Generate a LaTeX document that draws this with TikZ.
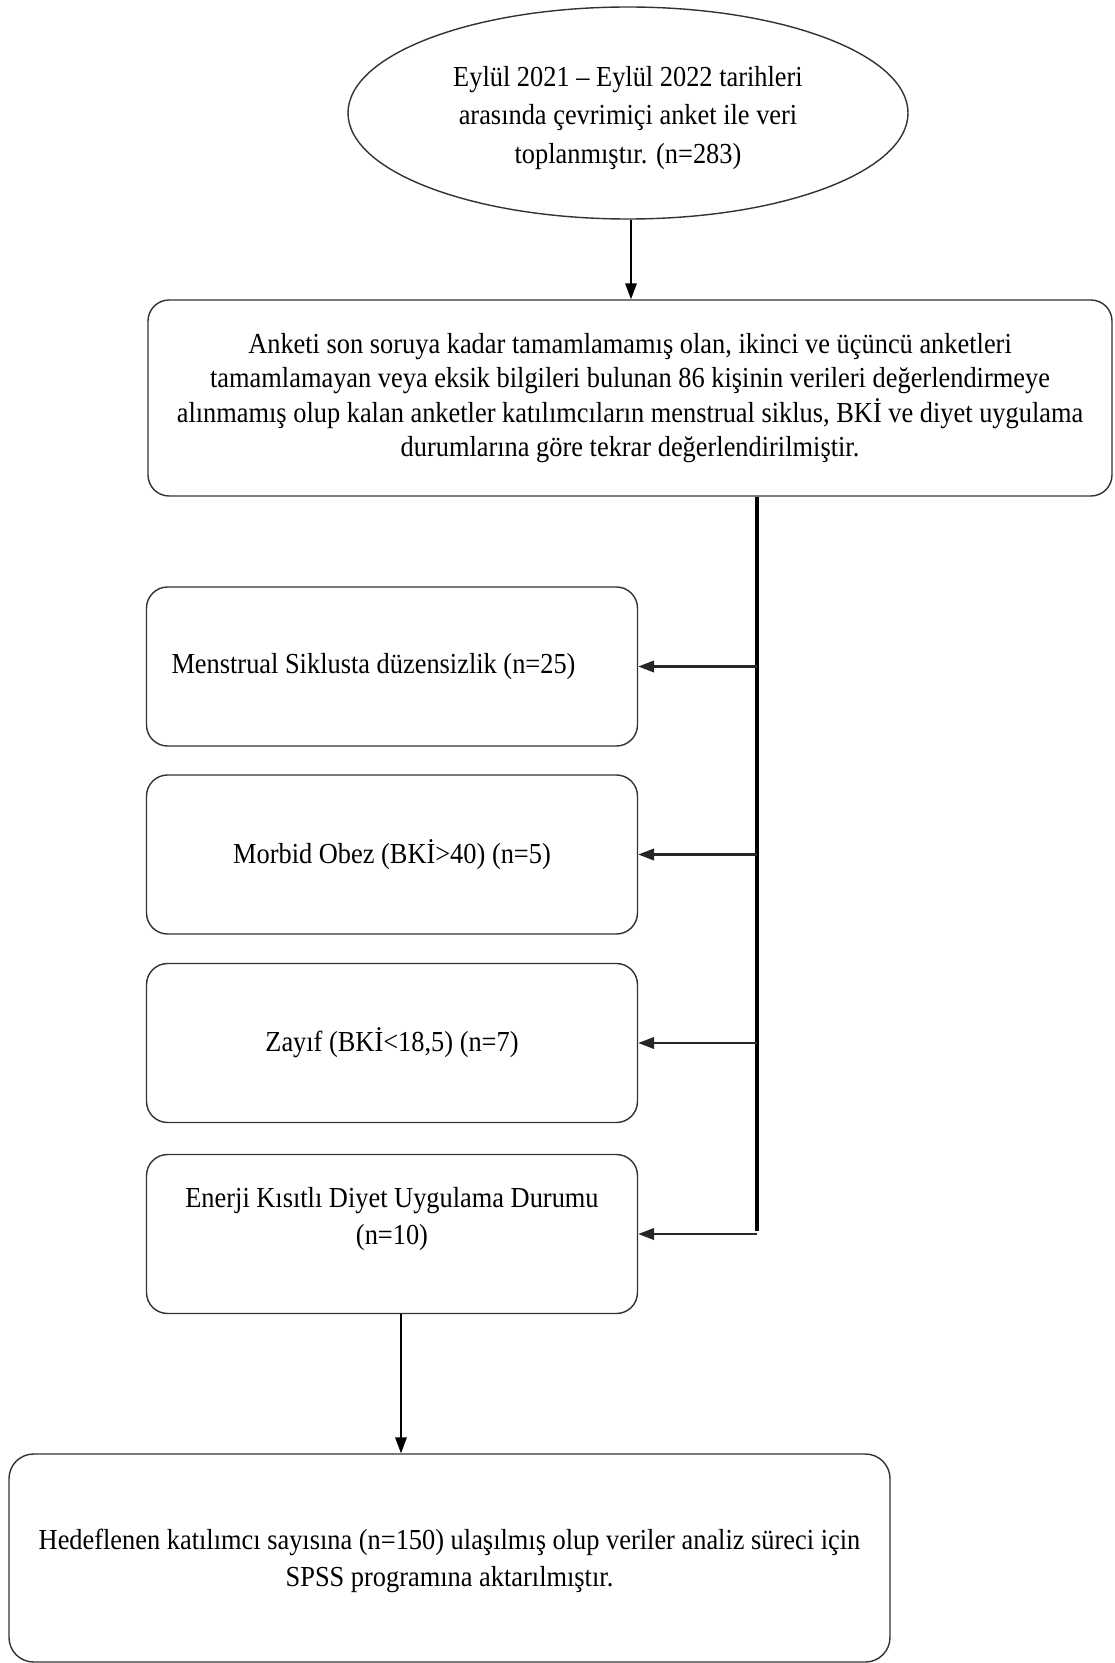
\documentclass[tikz,border=0pt]{standalone}
\usepackage{fontspec}
\setmainfont{Liberation Serif}[FakeStretch=0.91]
\usetikzlibrary{arrows.meta,shapes.geometric}

\begin{document}
\begin{tikzpicture}[
  ovbox/.style  = {draw=black!80, line width=0.8pt, ellipse,
                   minimum width=11.2cm, minimum height=4.24cm,
                   inner sep=0pt, align=center, fill=white,
                   font=\fontsize{16.5}{22}\selectfont},
  widebox/.style = {draw=black!80, line width=0.8pt, rounded corners=12pt,
                   minimum width=19.28cm, minimum height=3.92cm,
                   align=center, fill=white},
  exbox/.style  = {draw=black!80, line width=0.8pt, rounded corners=12pt,
                   minimum width=9.82cm, minimum height=3.18cm,
                   align=center, fill=white,
                   font=\fontsize{16.5}{21}\selectfont},
  endbox/.style = {draw=black!80, line width=0.8pt, rounded corners=14pt,
                   minimum width=17.62cm, minimum height=4.16cm,
                   align=center, fill=white,
                   font=\fontsize{16.5}{21}\selectfont},
  varr/.style   = {-{Triangle[length=9pt,width=6.5pt]}, line width=0.9pt},
  harr/.style   = {-{Triangle[length=9pt,width=6.5pt]}, line width=1.3pt,
                   black!85},
  busline/.style = {line width=2pt},
  every node/.style = {font=\fontsize{16.5}{19.6}\selectfont},
]

\useasboundingbox (0,0) rectangle (22.28,-33.26);

\node[ovbox]   (survey) at (12.56, -2.26)
  {\rule{0pt}{17pt}Eylül 2021 – Eylül 2022 tarihleri\\arasında çevrimiçi anket ile veri\\toplanmıştır. (n=283)};
\node[widebox] (screen) at (12.6, -7.96)
  {Anketi son soruya kadar tamamlamamış olan, ikinci ve üçüncü anketleri\\%
   tamamlamayan veya eksik bilgileri bulunan 86 kişinin verileri değerlendirmeye\\%
   alınmamış olup kalan anketler katılımcıların menstrual siklus, BKİ ve diyet uygulama\\%
   durumlarına göre tekrar değerlendirilmiştir.};

\node[exbox, align=flush left, text width=8.82cm, inner xsep=0.5cm]
             (msbox)   at (7.84, -13.33) {Menstrual Siklusta düzensizlik (n=25)};
\node[exbox] (obbox)   at (7.84, -17.09) {Morbid Obez (BKİ>40) (n=5)};
\node[exbox] (lowbox)  at (7.84, -20.86) {Zayıf (BKİ<18,5) (n=7)};
\node[exbox] (dietbox) at (7.84, -24.68)
  {Enerji Kısıtlı Diyet Uygulama Durumu\\(n=10)\\\mbox{}};

\node[endbox] (result) at (8.99, -31.16)
  {\rule{0pt}{15pt}Hedeflenen katılımcı sayısına (n=150) ulaşılmış olup veriler analiz süreci için\\%
   SPSS programına aktarılmıştır.};

% main flow
\draw[varr] ([xshift=0.06cm]survey.south) -- ([xshift=0.06cm]survey.south |- screen.north);
\draw[varr] ([xshift=0.18cm]dietbox.south) -- ([xshift=0.18cm]dietbox.south |- result.north);

% exclusion bus: one vertical stem, one arrow into each box
\coordinate (busend) at (15.14, -24.62);
\draw[busline] (screen.south -| busend) -- (busend);
\foreach \ex in {msbox, obbox, lowbox, dietbox}
  \draw[harr] (busend |- \ex.east) -- (\ex.east);

\end{tikzpicture}
\end{document}
